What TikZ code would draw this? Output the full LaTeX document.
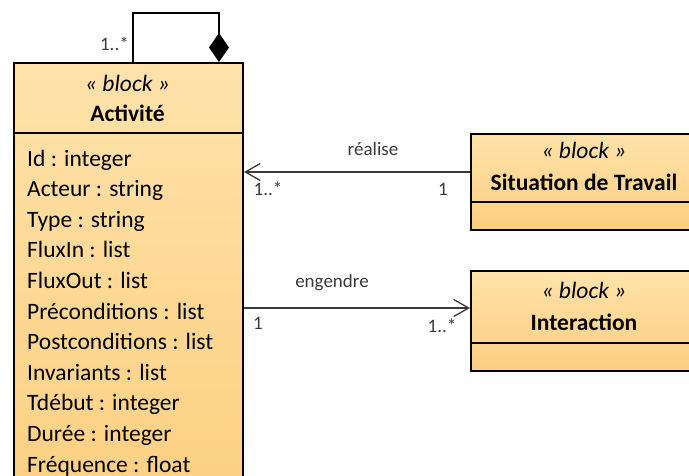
\documentclass[tikz,border=0pt]{standalone}
\usepackage{fontspec}
\setmainfont{Carlito}
\usetikzlibrary{arrows.meta,positioning}
\definecolor{blocktop}{HTML}{FFE2AA}
\definecolor{blockbot}{HTML}{FCCF80}
\definecolor{labelgray}{HTML}{3A3A3A}
\tikzset{
	% a SysML block, drawn as a filled box
	blockbox/.style={draw=black,line width=2pt,top color=blocktop,bottom color=blockbot,
		rectangle,inner sep=0pt,anchor=north west},
	stereo/.style={font=\fontsize{23.5}{28}\selectfont\itshape,anchor=base,inner sep=0pt},
	blockname/.style={font=\fontsize{23.5}{28}\selectfont\bfseries,anchor=base,inner sep=0pt},
	attr/.style={font=\fontsize{23.5}{28}\selectfont,anchor=base west,inner sep=0pt},
	mult/.style={font=\fontsize{19}{22}\selectfont,text=labelgray,anchor=base,inner sep=0pt},
	assoc/.style={draw=labelgray,line width=1.3pt,-{Straight Barb[length=15pt,width=17pt]}},
}
\begin{document}
\begin{tikzpicture}[x=1pt,y=-1pt]
		\useasboundingbox (0,0) rectangle (689,475);
		\clip (0,0) rectangle (689,475);
		% blocks
		\node[blockbox,minimum width=229pt,minimum height=460pt] (act) at (13,62) {};
		\node[blockbox,minimum width=229pt,minimum height=96pt] (sit) at (470,133) {};
		\node[blockbox,minimum width=229pt,minimum height=100pt] (inter) at (470,270) {};
		\draw[line width=2pt] ([yshift=-71pt]act.north west) -- ([yshift=-71pt]act.north east);
		\draw[line width=2pt] ([yshift=-69pt]sit.north west) -- ([yshift=-69pt]sit.north east);
		\draw[line width=2pt] ([yshift=-73pt]inter.north west) -- ([yshift=-73pt]inter.north east);
		\node[stereo] (actst) at (127.5,91) {« block »};
		\node[blockname] (actnm) at (127.5,121) {Activité};
		\node[stereo] (sitst) at (584,158) {« block »};
		\node[blockname] (sitnm) at (584,190) {Situation de Travail};
		\node[stereo] (interst) at (584,298) {« block »};
		\node[blockname] (internm) at (584,330) {Interaction};
		\foreach \t [count=\i] in {Id : integer,Acteur : string,Type : string,FluxIn : list,
			FluxOut : list,Préconditions : list,Postconditions : list,Invariants : list,
			Tdébut : integer,Durée : integer,Fréquence : float}
		\node[attr] (a\i) at (27,{166+30.6*(\i-1)}) {\t};
		% composition loop
		\coordinate (loopa) at ([xshift=120pt]act.north west);
		\coordinate (loopb) at ([xshift=206pt]act.north west);
		\draw[line width=2pt,-{Diamond[length=29pt,width=20pt]}] (loopa) -- ++(0,-49) -| (loopb);
		\node[mult,anchor=base east] (loopm) at (129,50) {1..*};
		% associations
		\coordinate (rs) at ([yshift=-39pt]sit.north west);
		\coordinate (es) at ([yshift=-38pt]inter.north west);
		\draw[assoc] (rs) -- (rs -| act.east);
		\draw[assoc] (es -| act.east) -- (es);
		\node[mult] (lreal) at (373,155) {réalise};
		\node[mult] (rm1) at (268,195) {1..*};
		\node[mult] (rm2) at (443,195) {1};
		\node[mult] (leng) at (332,287) {engendre};
		\node[mult] (em1) at (258,329) {1};
		\node[mult] (em2) at (442,332) {1..*};
		\end{tikzpicture}
\end{document}
